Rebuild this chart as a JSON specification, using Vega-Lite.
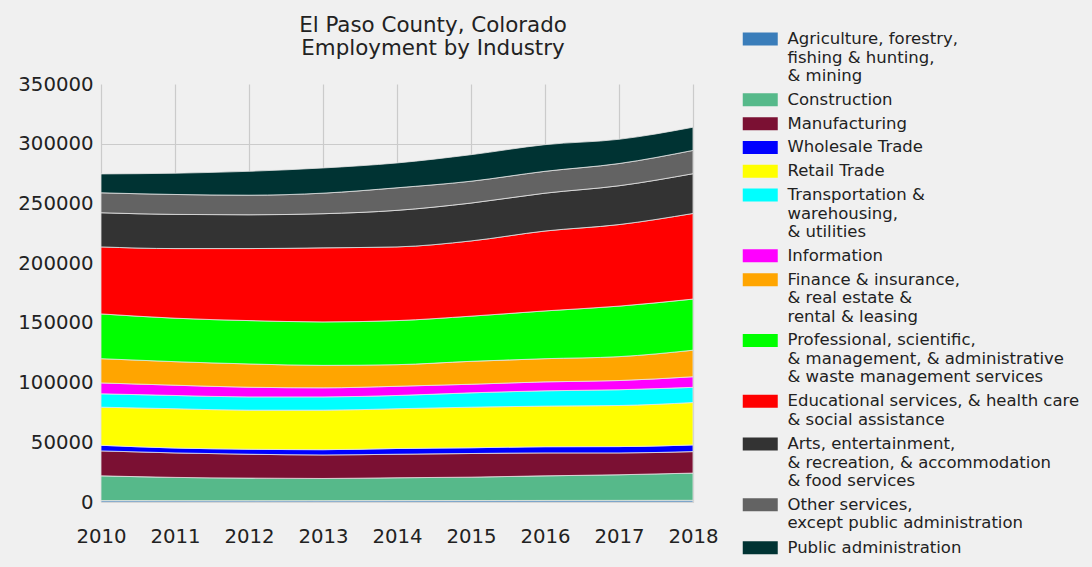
{
  "$schema": "https://vega.github.io/schema/vega-lite/v6.json",
  "width": 592,
  "height": 418,
  "autosize": {"type": "none"},
  "padding": {"left": 101, "top": 84, "right": 399, "bottom": 65},
  "background": "#f0f0f0",
  "title": {
    "text": ["El Paso County, Colorado", "Employment by Industry"],
    "font": "DejaVu Sans",
    "fontSize": 21.4,
    "fontWeight": "normal",
    "color": "#222222",
    "anchor": "middle",
    "frame": "group",
    "dx": 36,
    "offset": -29,
    "lineHeight": 23
  },
  "config": {
    "view": {"stroke": null},
    "axis": {
      "labelFont": "DejaVu Sans",
      "labelFontSize": 19.7,
      "labelColor": "#222222",
      "domain": false,
      "ticks": false,
      "gridColor": "#cbcbcb",
      "gridWidth": 1.2,
      "title": null
    }
  },
  "data": {
    "values": [
      {"year": 2010, "sector": 1, "industry": "Agriculture, forestry,\nfishing & hunting,\n& mining", "jobs": 1200},
      {"year": 2011, "sector": 1, "industry": "Agriculture, forestry,\nfishing & hunting,\n& mining", "jobs": 1150},
      {"year": 2012, "sector": 1, "industry": "Agriculture, forestry,\nfishing & hunting,\n& mining", "jobs": 1100},
      {"year": 2013, "sector": 1, "industry": "Agriculture, forestry,\nfishing & hunting,\n& mining", "jobs": 1150},
      {"year": 2014, "sector": 1, "industry": "Agriculture, forestry,\nfishing & hunting,\n& mining", "jobs": 1200},
      {"year": 2015, "sector": 1, "industry": "Agriculture, forestry,\nfishing & hunting,\n& mining", "jobs": 1250},
      {"year": 2016, "sector": 1, "industry": "Agriculture, forestry,\nfishing & hunting,\n& mining", "jobs": 1300},
      {"year": 2017, "sector": 1, "industry": "Agriculture, forestry,\nfishing & hunting,\n& mining", "jobs": 1350},
      {"year": 2018, "sector": 1, "industry": "Agriculture, forestry,\nfishing & hunting,\n& mining", "jobs": 1400},
      {"year": 2010, "sector": 2, "industry": "Construction", "jobs": 20700},
      {"year": 2011, "sector": 2, "industry": "Construction", "jobs": 19450},
      {"year": 2012, "sector": 2, "industry": "Construction", "jobs": 18900},
      {"year": 2013, "sector": 2, "industry": "Construction", "jobs": 18550},
      {"year": 2014, "sector": 2, "industry": "Construction", "jobs": 19100},
      {"year": 2015, "sector": 2, "industry": "Construction", "jobs": 19550},
      {"year": 2016, "sector": 2, "industry": "Construction", "jobs": 20600},
      {"year": 2017, "sector": 2, "industry": "Construction", "jobs": 21450},
      {"year": 2018, "sector": 2, "industry": "Construction", "jobs": 22800},
      {"year": 2010, "sector": 3, "industry": "Manufacturing", "jobs": 20900},
      {"year": 2011, "sector": 3, "industry": "Manufacturing", "jobs": 20500},
      {"year": 2012, "sector": 3, "industry": "Manufacturing", "jobs": 20000},
      {"year": 2013, "sector": 3, "industry": "Manufacturing", "jobs": 19700},
      {"year": 2014, "sector": 3, "industry": "Manufacturing", "jobs": 19700},
      {"year": 2015, "sector": 3, "industry": "Manufacturing", "jobs": 19800},
      {"year": 2016, "sector": 3, "industry": "Manufacturing", "jobs": 19200},
      {"year": 2017, "sector": 3, "industry": "Manufacturing", "jobs": 18300},
      {"year": 2018, "sector": 3, "industry": "Manufacturing", "jobs": 18000},
      {"year": 2010, "sector": 4, "industry": "Wholesale Trade", "jobs": 4700},
      {"year": 2011, "sector": 4, "industry": "Wholesale Trade", "jobs": 4100},
      {"year": 2012, "sector": 4, "industry": "Wholesale Trade", "jobs": 4200},
      {"year": 2013, "sector": 4, "industry": "Wholesale Trade", "jobs": 4400},
      {"year": 2014, "sector": 4, "industry": "Wholesale Trade", "jobs": 4800},
      {"year": 2015, "sector": 4, "industry": "Wholesale Trade", "jobs": 4800},
      {"year": 2016, "sector": 4, "industry": "Wholesale Trade", "jobs": 5200},
      {"year": 2017, "sector": 4, "industry": "Wholesale Trade", "jobs": 5300},
      {"year": 2018, "sector": 4, "industry": "Wholesale Trade", "jobs": 5600},
      {"year": 2010, "sector": 5, "industry": "Retail Trade", "jobs": 31900},
      {"year": 2011, "sector": 5, "industry": "Retail Trade", "jobs": 32900},
      {"year": 2012, "sector": 5, "industry": "Retail Trade", "jobs": 32700},
      {"year": 2013, "sector": 5, "industry": "Retail Trade", "jobs": 33100},
      {"year": 2014, "sector": 5, "industry": "Retail Trade", "jobs": 33300},
      {"year": 2015, "sector": 5, "industry": "Retail Trade", "jobs": 34000},
      {"year": 2016, "sector": 5, "industry": "Retail Trade", "jobs": 34000},
      {"year": 2017, "sector": 5, "industry": "Retail Trade", "jobs": 34400},
      {"year": 2018, "sector": 5, "industry": "Retail Trade", "jobs": 35500},
      {"year": 2010, "sector": 6, "industry": "Transportation &\nwarehousing,\n& utilities", "jobs": 11200},
      {"year": 2011, "sector": 6, "industry": "Transportation &\nwarehousing,\n& utilities", "jobs": 11100},
      {"year": 2012, "sector": 6, "industry": "Transportation &\nwarehousing,\n& utilities", "jobs": 11100},
      {"year": 2013, "sector": 6, "industry": "Transportation &\nwarehousing,\n& utilities", "jobs": 11100},
      {"year": 2014, "sector": 6, "industry": "Transportation &\nwarehousing,\n& utilities", "jobs": 11100},
      {"year": 2015, "sector": 6, "industry": "Transportation &\nwarehousing,\n& utilities", "jobs": 12000},
      {"year": 2016, "sector": 6, "industry": "Transportation &\nwarehousing,\n& utilities", "jobs": 12800},
      {"year": 2017, "sector": 6, "industry": "Transportation &\nwarehousing,\n& utilities", "jobs": 13200},
      {"year": 2018, "sector": 6, "industry": "Transportation &\nwarehousing,\n& utilities", "jobs": 12700},
      {"year": 2010, "sector": 7, "industry": "Information", "jobs": 9100},
      {"year": 2011, "sector": 7, "industry": "Information", "jobs": 8600},
      {"year": 2012, "sector": 7, "industry": "Information", "jobs": 8100},
      {"year": 2013, "sector": 7, "industry": "Information", "jobs": 7600},
      {"year": 2014, "sector": 7, "industry": "Information", "jobs": 7700},
      {"year": 2015, "sector": 7, "industry": "Information", "jobs": 7200},
      {"year": 2016, "sector": 7, "industry": "Information", "jobs": 7500},
      {"year": 2017, "sector": 7, "industry": "Information", "jobs": 7700},
      {"year": 2018, "sector": 7, "industry": "Information", "jobs": 8900},
      {"year": 2010, "sector": 8, "industry": "Finance & insurance,\n& real estate &\nrental & leasing", "jobs": 20300},
      {"year": 2011, "sector": 8, "industry": "Finance & insurance,\n& real estate &\nrental & leasing", "jobs": 19700},
      {"year": 2012, "sector": 8, "industry": "Finance & insurance,\n& real estate &\nrental & leasing", "jobs": 19500},
      {"year": 2013, "sector": 8, "industry": "Finance & insurance,\n& real estate &\nrental & leasing", "jobs": 18800},
      {"year": 2014, "sector": 8, "industry": "Finance & insurance,\n& real estate &\nrental & leasing", "jobs": 18100},
      {"year": 2015, "sector": 8, "industry": "Finance & insurance,\n& real estate &\nrental & leasing", "jobs": 19200},
      {"year": 2016, "sector": 8, "industry": "Finance & insurance,\n& real estate &\nrental & leasing", "jobs": 19400},
      {"year": 2017, "sector": 8, "industry": "Finance & insurance,\n& real estate &\nrental & leasing", "jobs": 20000},
      {"year": 2018, "sector": 8, "industry": "Finance & insurance,\n& real estate &\nrental & leasing", "jobs": 22200},
      {"year": 2010, "sector": 9, "industry": "Professional, scientific,\n& management, & administrative\n& waste management services", "jobs": 37500},
      {"year": 2011, "sector": 9, "industry": "Professional, scientific,\n& management, & administrative\n& waste management services", "jobs": 36400},
      {"year": 2012, "sector": 9, "industry": "Professional, scientific,\n& management, & administrative\n& waste management services", "jobs": 36300},
      {"year": 2013, "sector": 9, "industry": "Professional, scientific,\n& management, & administrative\n& waste management services", "jobs": 36400},
      {"year": 2014, "sector": 9, "industry": "Professional, scientific,\n& management, & administrative\n& waste management services", "jobs": 36900},
      {"year": 2015, "sector": 9, "industry": "Professional, scientific,\n& management, & administrative\n& waste management services", "jobs": 37800},
      {"year": 2016, "sector": 9, "industry": "Professional, scientific,\n& management, & administrative\n& waste management services", "jobs": 40000},
      {"year": 2017, "sector": 9, "industry": "Professional, scientific,\n& management, & administrative\n& waste management services", "jobs": 42300},
      {"year": 2018, "sector": 9, "industry": "Professional, scientific,\n& management, & administrative\n& waste management services", "jobs": 42800},
      {"year": 2010, "sector": 10, "industry": "Educational services, & health care\n& social assistance", "jobs": 56100},
      {"year": 2011, "sector": 10, "industry": "Educational services, & health care\n& social assistance", "jobs": 58300},
      {"year": 2012, "sector": 10, "industry": "Educational services, & health care\n& social assistance", "jobs": 60300},
      {"year": 2013, "sector": 10, "industry": "Educational services, & health care\n& social assistance", "jobs": 62000},
      {"year": 2014, "sector": 10, "industry": "Educational services, & health care\n& social assistance", "jobs": 61700},
      {"year": 2015, "sector": 10, "industry": "Educational services, & health care\n& social assistance", "jobs": 63000},
      {"year": 2016, "sector": 10, "industry": "Educational services, & health care\n& social assistance", "jobs": 66900},
      {"year": 2017, "sector": 10, "industry": "Educational services, & health care\n& social assistance", "jobs": 68300},
      {"year": 2018, "sector": 10, "industry": "Educational services, & health care\n& social assistance", "jobs": 71700},
      {"year": 2010, "sector": 11, "industry": "Arts, entertainment,\n& recreation, & accommodation\n& food services", "jobs": 28600},
      {"year": 2011, "sector": 11, "industry": "Arts, entertainment,\n& recreation, & accommodation\n& food services", "jobs": 28600},
      {"year": 2012, "sector": 11, "industry": "Arts, entertainment,\n& recreation, & accommodation\n& food services", "jobs": 28300},
      {"year": 2013, "sector": 11, "industry": "Arts, entertainment,\n& recreation, & accommodation\n& food services", "jobs": 28600},
      {"year": 2014, "sector": 11, "industry": "Arts, entertainment,\n& recreation, & accommodation\n& food services", "jobs": 30600},
      {"year": 2015, "sector": 11, "industry": "Arts, entertainment,\n& recreation, & accommodation\n& food services", "jobs": 31700},
      {"year": 2016, "sector": 11, "industry": "Arts, entertainment,\n& recreation, & accommodation\n& food services", "jobs": 31700},
      {"year": 2017, "sector": 11, "industry": "Arts, entertainment,\n& recreation, & accommodation\n& food services", "jobs": 32500},
      {"year": 2018, "sector": 11, "industry": "Arts, entertainment,\n& recreation, & accommodation\n& food services", "jobs": 33300},
      {"year": 2010, "sector": 12, "industry": "Other services,\nexcept public administration", "jobs": 16700},
      {"year": 2011, "sector": 12, "industry": "Other services,\nexcept public administration", "jobs": 16700},
      {"year": 2012, "sector": 12, "industry": "Other services,\nexcept public administration", "jobs": 16400},
      {"year": 2013, "sector": 12, "industry": "Other services,\nexcept public administration", "jobs": 17200},
      {"year": 2014, "sector": 12, "industry": "Other services,\nexcept public administration", "jobs": 18900},
      {"year": 2015, "sector": 12, "industry": "Other services,\nexcept public administration", "jobs": 18300},
      {"year": 2016, "sector": 12, "industry": "Other services,\nexcept public administration", "jobs": 18300},
      {"year": 2017, "sector": 12, "industry": "Other services,\nexcept public administration", "jobs": 18600},
      {"year": 2018, "sector": 12, "industry": "Other services,\nexcept public administration", "jobs": 19500},
      {"year": 2010, "sector": 13, "industry": "Public administration", "jobs": 15800},
      {"year": 2011, "sector": 13, "industry": "Public administration", "jobs": 17800},
      {"year": 2012, "sector": 13, "industry": "Public administration", "jobs": 20000},
      {"year": 2013, "sector": 13, "industry": "Public administration", "jobs": 21100},
      {"year": 2014, "sector": 13, "industry": "Public administration", "jobs": 20800},
      {"year": 2015, "sector": 13, "industry": "Public administration", "jobs": 22200},
      {"year": 2016, "sector": 13, "industry": "Public administration", "jobs": 22300},
      {"year": 2017, "sector": 13, "industry": "Public administration", "jobs": 20300},
      {"year": 2018, "sector": 13, "industry": "Public administration", "jobs": 19400}
    ]
  },
  "mark": {
    "type": "area",
    "interpolate": "monotone",
    "opacity": 1,
    "stroke": "#e4e4e4",
    "strokeWidth": 0.8
  },
  "encoding": {
    "x": {
      "field": "year",
      "type": "quantitative",
      "scale": {"domain": [2010, 2018], "nice": false, "zero": false},
      "axis": {
        "values": [2010, 2011, 2012, 2013, 2014, 2015, 2016, 2017, 2018],
        "format": "d",
        "labelPadding": 24,
        "labelFlush": false
      }
    },
    "y": {
      "field": "jobs",
      "type": "quantitative",
      "stack": "zero",
      "scale": {"domain": [0, 350000], "nice": false},
      "axis": {
        "values": [0, 50000, 100000, 150000, 200000, 250000, 300000, 350000],
        "format": "d",
        "labelPadding": 8,
        "gridOpacity": {"condition": {"test": "datum.value >= 350000", "value": 0}, "value": 1}
      }
    },
    "order": {"field": "sector", "type": "quantitative", "sort": "ascending"},
    "color": {
      "field": "industry",
      "type": "nominal",
      "scale": {
        "domain": [
          "Agriculture, forestry,\nfishing & hunting,\n& mining",
          "Construction",
          "Manufacturing",
          "Wholesale Trade",
          "Retail Trade",
          "Transportation &\nwarehousing,\n& utilities",
          "Information",
          "Finance & insurance,\n& real estate &\nrental & leasing",
          "Professional, scientific,\n& management, & administrative\n& waste management services",
          "Educational services, & health care\n& social assistance",
          "Arts, entertainment,\n& recreation, & accommodation\n& food services",
          "Other services,\nexcept public administration",
          "Public administration"
        ],
        "range": ["#3a7dba", "#56b98a", "#7b1033", "#0000ff", "#ffff00", "#00ffff", "#ff00ff", "#ffa500", "#00ff00", "#ff0000", "#333333", "#636363", "#003333"]
      },
      "legend": {
        "orient": "none",
        "legendX": 651,
        "legendY": -53.2,
        "title": null,
        "padding": 0,
        "labelFont": "DejaVu Sans",
        "labelFontSize": 16.5,
        "labelColor": "#222222",
        "labelLimit": 400,
        "labelOffset": 19,
        "rowPadding": 6.8,
        "symbolType": "M-2.692,-1L2.692,-1L2.692,1L-2.692,1Z",
        "symbolSize": 169,
        "symbolStrokeWidth": 0,
        "symbolOpacity": 1,
        "labelExpr": "split(datum.label, '\\n')"
      }
    }
  }
}
